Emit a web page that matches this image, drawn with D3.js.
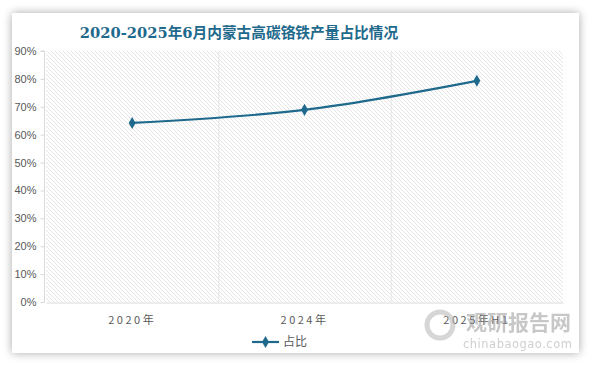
<!DOCTYPE html>
<html>
<head>
<meta charset="utf-8">
<script src="https://cdn.jsdelivr.net/npm/d3@7"></script>
<style>
  html, body { margin: 0; padding: 0; background: #fff; }
  svg { display: block; }
</style>
</head>
<body>
<div id="chart"></div>
<script>
// data
const categories = ["2020年", "2024年", "2025年H1"];
const shareValues = [64.2, 68.9, 79.3];
const yTicks = [0, 10, 20, 30, 40, 50, 60, 70, 80, 90];
const seriesName = "占比";
const titleText = "2020-2025年6月内蒙古高碳铬铁产量占比情况";

const width = 594, height = 366;
const margin = {top: 51, right: 31, bottom: 64, left: 46};
const lineColor = "#1f6a8c";

const svg = d3.select("#chart")
  .append("svg")
  .attr("width", width)
  .attr("height", height)
  .attr("viewBox", `0 0 ${width} ${height}`);

const defs = svg.append("defs");

// card shadow
const shadow = defs.append("filter")
  .attr("id", "shadow")
  .attr("x", "-10%").attr("y", "-10%")
  .attr("width", "120%").attr("height", "120%");
shadow.append("feGaussianBlur")
  .attr("in", "SourceAlpha")
  .attr("stdDeviation", 5);
shadow.append("feComponentTransfer")
  .append("feFuncA").attr("type", "linear").attr("slope", 0.35);
const merge = shadow.append("feMerge");
merge.append("feMergeNode");
merge.append("feMergeNode").attr("in", "SourceGraphic");

// hatch pattern for plot area
const hatch = defs.append("pattern")
  .attr("id", "hatch")
  .attr("patternUnits", "userSpaceOnUse")
  .attr("width", 4)
  .attr("height", 4);
hatch.append("rect").attr("width", 4).attr("height", 4).attr("fill", "#fff");
hatch.append("path")
  .attr("d", "M-1,-1 L5,5 M-1,3 L1,5 M3,-1 L5,1")
  .attr("stroke", "#dedede")
  .attr("stroke-width", 0.8);

svg.append("rect")
  .attr("x", 12).attr("y", 13)
  .attr("width", 567).attr("height", 340)
  .attr("fill", "#fff")
  .attr("filter", "url(#shadow)");

// title
svg.append("text")
  .attr("x", 239)
  .attr("y", 38)
  .attr("text-anchor", "middle")
  .attr("fill", "#1f6a8c")
  .attr("font-family", "'DejaVu Serif', 'Noto Sans CJK SC', serif")
  .attr("font-weight", "bold")
  .attr("font-size", 14.7)
  .text(titleText);

// scales
const x = d3.scaleBand()
  .domain(categories)
  .range([margin.left, width - margin.right]);

const y = d3.scaleLinear()
  .domain([0, 90])
  .range([height - margin.bottom, margin.top]);

// plot background
svg.append("rect")
  .attr("x", margin.left)
  .attr("y", margin.top)
  .attr("width", x.range()[1] - x.range()[0])
  .attr("height", y(0) - y(90))
  .attr("fill", "url(#hatch)");

// category separators
svg.append("g")
  .selectAll("line")
  .data(categories.slice(1))
  .enter()
  .append("line")
  .attr("x1", d => x(d) + 0.5)
  .attr("x2", d => x(d) + 0.5)
  .attr("y1", margin.top)
  .attr("y2", y(0))
  .attr("stroke", "#e6e6e6");

// y axis
const yAxis = svg.append("g")
  .attr("transform", `translate(${margin.left - 1.5},0)`)
  .call(d3.axisLeft(y).tickValues(yTicks).tickSize(4).tickFormat(d => d + "%"));
yAxis.select(".domain").attr("stroke", "#d9d9d9").attr("d", `M-4,${y(90)}H0V${y(0)}`);
yAxis.selectAll(".tick line").attr("stroke", "#d9d9d9");
yAxis.selectAll("text")
  .attr("fill", "#595959")
  .attr("font-family", "'Liberation Sans', Arial, sans-serif")
  .attr("font-size", 11)
  .attr("x", -8);

// x axis
const xAxis = svg.append("g")
  .attr("transform", `translate(0,${y(0) + 0.5})`)
  .call(d3.axisBottom(x).tickSize(0).tickPadding(14));
xAxis.select(".domain").attr("stroke", "#d9d9d9");
xAxis.selectAll("text")
  .attr("fill", "#595959")
  .attr("font-family", "'Noto Sans CJK SC', sans-serif")
  .attr("font-size", 11)
  .attr("letter-spacing", 2.5);

// line
const points = categories.map((c, i) => ({cat: c, value: shareValues[i]}));
const line = d3.line()
  .x(d => x(d.cat) + x.bandwidth() / 2)
  .y(d => y(d.value))
  .curve(d3.curveCatmullRom.alpha(0.5));

svg.append("path")
  .datum(points)
  .attr("d", line)
  .attr("fill", "none")
  .attr("stroke", lineColor)
  .attr("stroke-width", 2.2);

const diamond = d3.symbol().type(d3.symbolDiamond).size(42);
svg.append("g")
  .selectAll("path")
  .data(points)
  .enter()
  .append("path")
  .attr("d", diamond)
  .attr("transform", d => `translate(${x(d.cat) + x.bandwidth() / 2},${y(d.value)})`)
  .attr("fill", lineColor);

// legend
const legend = svg.append("g").attr("transform", "translate(252,342)");
legend.append("line")
  .attr("x1", 0).attr("x2", 27)
  .attr("stroke", lineColor)
  .attr("stroke-width", 2.2);
legend.append("path")
  .attr("d", diamond)
  .attr("transform", "translate(13.5,0)")
  .attr("fill", lineColor);
legend.append("text")
  .attr("x", 31)
  .attr("y", 4)
  .attr("fill", "#595959")
  .attr("font-family", "'Noto Sans CJK SC', sans-serif")
  .attr("font-size", 12)
  .text(seriesName);

// watermark
const mark = svg.append("g").attr("opacity", 0.55);
mark.append("circle")
  .attr("cx", 440).attr("cy", 325).attr("r", 13)
  .attr("fill", "none")
  .attr("stroke", "#b5b5b5")
  .attr("stroke-width", 5);
mark.append("text")
  .attr("x", 466).attr("y", 330)
  .attr("fill", "#9a9a9a")
  .attr("font-family", "'Noto Sans CJK SC', sans-serif")
  .attr("font-weight", "bold")
  .attr("font-size", 21)
  .text("观研报告网");
mark.append("text")
  .attr("x", 463).attr("y", 348)
  .attr("fill", "#a8a8a8")
  .attr("font-family", "'DejaVu Sans', sans-serif")
  .attr("font-size", 11.5)
  .attr("letter-spacing", 0.5)
  .text("chinabaogao.com");
</script>
</body>
</html>
